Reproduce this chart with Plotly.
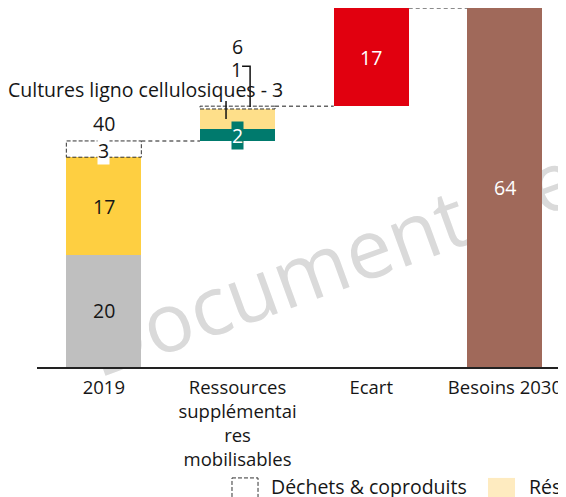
import plotly.graph_objects as go

# ---------------- data ----------------
categories = ["2019", "Ressources supplémentaires mobilisables", "Ecart", "Besoins 2030"]
tick_labels = ["2019", "Ressources<br>supplémentai<br>res<br>mobilisables", "Ecart", "Besoins 2030"]

gris_2019 = [20.0, 0, 0, 0]
jaune_2019 = [17.4, 0, 0, 0]
dechets = [2.9, 0.5, 0, 0]
vert_suppl = [0, 2.1, 0, 0]
ligno_suppl = [0, 3.6, 0, 0]
ecart = [0, 0, 17.5, 0]
besoins = [0, 0, 0, 64.0]

lab_gris = ["20", "", "", ""]
lab_jaune = ["17", "", "", ""]
lab_dechets = ["3", "1", "", ""]
lab_vert = ["", "2", "", ""]
lab_ligno = ["", "Cultures ligno cellulosiques - 3", "", ""]
lab_ecart = ["", "", "17", ""]
lab_besoins = ["", "", "", "64"]
lab_total = ["40", "6", "", ""]

legend_names = ["Déchets & coproduits", "Résidus agricoles"]

# ---------------- style ----------------
FONT = "Open Sans"
C_GRIS = "#BFBFBF"
C_JAUNE = "#FECF41"
C_VERT = "#007A6D"
C_LIGNO = "#FEDF8A"
C_ROUGE = "#E1000F"
C_BRUN = "#A0695A"
C_LEG2 = "#FEEBC0"
TXT = "#161616"
W = 0.561
FS = 19.5
FT = 18.5

n = len(categories)
idx = list(range(n))

# bases (waterfall)
base_gris = [0.0] * n
base_jaune = [base_gris[i] + gris_2019[i] for i in idx]
top_2019 = base_jaune[0] + jaune_2019[0] + dechets[0]
base_vert = [top_2019 if i == 1 else 0 for i in idx]
base_ligno = [base_vert[i] + vert_suppl[i] for i in idx]
base_dech = [base_jaune[0] + jaune_2019[0] if i == 0 else (base_ligno[i] + ligno_suppl[i] if i == 1 else 0) for i in idx]
top_suppl = base_dech[1] + dechets[1]
base_ecart = [top_suppl if i == 2 else 0 for i in idx]
top_ecart = base_ecart[2] + ecart[2]
base_besoins = [0.0] * n

fig = go.Figure()

def add_bar(vals, base, color):
    fig.add_trace(go.Bar(x=idx, y=vals, base=base, width=W, marker=dict(color=color, line=dict(width=0)),
                         showlegend=False, hoverinfo="skip"))

add_bar(gris_2019, base_gris, C_GRIS)
add_bar(jaune_2019, base_jaune, C_JAUNE)
add_bar(dechets, base_dech, "white")
add_bar(vert_suppl, base_vert, C_VERT)
add_bar(ligno_suppl, base_ligno, C_LIGNO)
add_bar(ecart, base_ecart, C_ROUGE)
add_bar(besoins, base_besoins, C_BRUN)

shapes = []
# watermark (below traces)
shapes.append(dict(type="rect", xref="paper", yref="paper", x0=0.767, x1=0.807, y0=0.385, y1=0.425,
                   layer="below", line=dict(width=0), fillcolor="rgba(0,0,0,0)",
                   label=dict(text="Document de travail", textangle=-20, textposition="middle center",
                              font=dict(family=FONT, size=82, color="#DADADA"))))
# dashed boxes for déchets
for i in idx:
    if dechets[i] > 0:
        shapes.append(dict(type="rect", xref="x", yref="y", x0=i - W / 2, x1=i + W / 2,
                           y0=base_dech[i], y1=base_dech[i] + dechets[i],
                           line=dict(color="#333333", width=1, dash="4px,2px"), layer="above"))
# connectors
tops = [top_2019, top_suppl, top_ecart]
for i, t in enumerate(tops):
    shapes.append(dict(type="line", xref="x", yref="y", x0=i + W / 2, x1=i + 1 - W / 2, y0=t, y1=t,
                       line=dict(color="#666666", width=1.5, dash="4px,3px")))
# leader lines
shapes.append(dict(type="line", xref="x", yref="y", x0=0.914, x1=0.914, y0=base_ligno[1] + 1.8, y1=top_suppl + 0.9,
                   line=dict(color="#111111", width=1.5)))
shapes.append(dict(type="path", xref="x", yref="y",
                   path=f"M 1.034 {top_suppl + 7.1} L 1.094 {top_suppl + 7.1} L 1.094 {top_suppl - 0.15}",
                   line=dict(color="#111111", width=1.5)))

# manual legend
shapes.append(dict(type="rect", xref="paper", yref="paper", x0=0.3686, x1=0.4178, y0=-0.309, y1=-0.38,
                   line=dict(color="#333333", width=1, dash="4px,2px"), fillcolor="white"))
shapes.append(dict(type="rect", xref="paper", yref="paper", x0=0.8526, x1=0.9036, y0=-0.309, y1=-0.38,
                   line=dict(width=0), fillcolor=C_LEG2))

ann = []
def lab(x, y, text, color=TXT, bg=None, **kw):
    d = dict(x=x, y=y, xref="x", yref="y", text=text, showarrow=False,
             font=dict(family=FONT, size=FS, color=color), borderpad=0)
    if bg:
        d["bgcolor"] = bg
    d.update(kw)
    ann.append(d)

for i in idx:
    if lab_gris[i]:
        lab(i, base_gris[i] + gris_2019[i] / 2, lab_gris[i])
    if lab_jaune[i]:
        lab(i, base_jaune[i] + jaune_2019[i] / 2, lab_jaune[i])
    if lab_ecart[i]:
        lab(i, base_ecart[i] + ecart[i] / 2, lab_ecart[i], color="white")
    if lab_besoins[i]:
        lab(i, base_besoins[i] + besoins[i] / 2, lab_besoins[i], color="white")
    if lab_vert[i]:
        lab(i, base_vert[i] + vert_suppl[i] / 2, lab_vert[i], color="white", bg=C_VERT)

# 2019 déchets / total
lab(0, base_dech[0] + dechets[0] / 2, lab_dechets[0], bg="white", yshift=-1)
lab(0, top_2019, lab_total[0], yanchor="bottom", yshift=3)
# ressources stacked callouts
lab(1, top_suppl, lab_total[1], yanchor="middle", yshift=60)
lab(1, top_suppl, lab_dechets[1], yanchor="middle", yshift=37, xshift=-1)
lab(1, top_suppl, lab_ligno[1], yanchor="middle", xanchor="right", yshift=17, xshift=46)

# legend texts
for xx, name in zip([0.4386, 0.9263], legend_names):
    ann.append(dict(x=xx, y=-0.334, xref="paper", yref="paper", text=name, showarrow=False,
                    xanchor="left", yanchor="middle", font=dict(family=FONT, size=FS, color=TXT)))

fig.update_layout(
    width=558, height=489,
    margin=dict(l=29, r=0, t=0, b=130, pad=0),
    paper_bgcolor="white", plot_bgcolor="white",
    barmode="overlay", bargap=0,
    showlegend=False,
    font=dict(family=FONT, size=FT, color=TXT),
    xaxis=dict(range=[-0.5, 3.457], tickmode="array", tickvals=idx, ticktext=tick_labels,
               showgrid=False, zeroline=False, showline=True, linecolor="#222222", linewidth=2,
               ticks="", ticklabelstandoff=3, tickfont=dict(family=FONT, size=FT, color=TXT)),
    yaxis=dict(range=[0, 64.0], visible=False, showgrid=False, zeroline=False),
    shapes=shapes, annotations=ann,
)

fig.write_html("out.html")
